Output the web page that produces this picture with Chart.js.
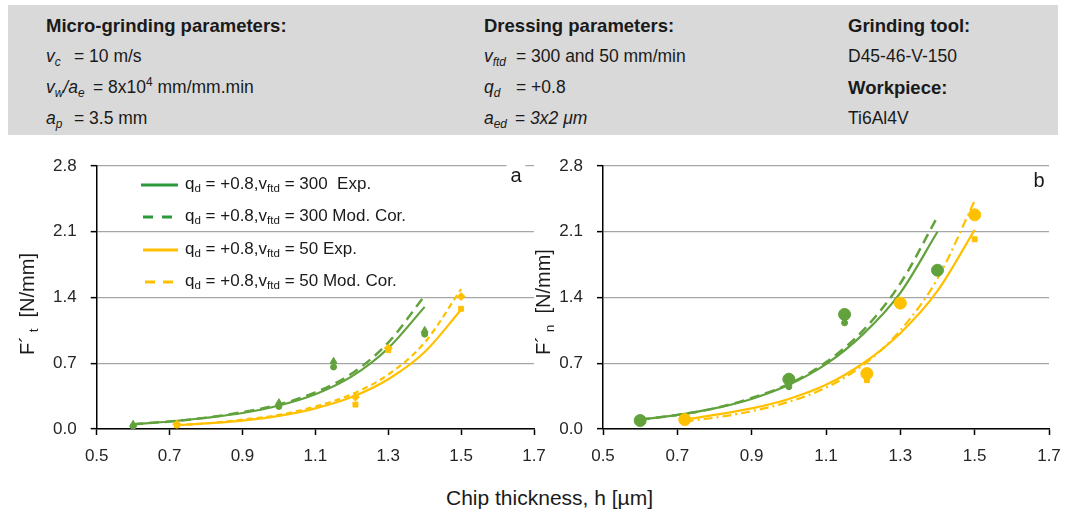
<!DOCTYPE html>
<html>
<head>
<meta charset="utf-8">
<script src="https://cdn.jsdelivr.net/npm/chart.js@4.4.1/dist/chart.umd.min.js"></script>
<style>
  html, body { margin:0; padding:0; background:#fff; }
  body { width:1065px; height:515px; position:relative; overflow:hidden; font-family:'Liberation Sans', Arial, sans-serif; color:#1a1a1a; }
  .t { position:absolute; white-space:pre; line-height:1; transform:translateY(-50%); }
  .h { font-size:17.5px; }
  .b { font-weight:bold; font-size:18.5px; }
  .i { font-style:italic; }
  sub { font-size:68%; vertical-align:-0.3em; line-height:0; }
  sup { font-size:68%; vertical-align:0.6em; line-height:0; }
  #hdr { position:absolute; left:8px; top:5px; width:1050px; height:130px; background:#d9d9d9; }
  .cv { position:absolute; }
  .leg { position:absolute; left:140px; font-size:17px; color:#1a1a1a; }
  .leg .row { position:absolute; left:0; white-space:pre; line-height:1; transform:translateY(-50%); }
  .leg svg { position:absolute; left:0; top:50%; transform:translateY(-50%); }
  .leg span.txt { position:absolute; left:45px; top:0; white-space:pre; }
  .ytitle { position:absolute; font-size:20px; white-space:pre; line-height:1; transform:translate(-50%,-50%) rotate(-90deg); }
  .panel { position:absolute; font-size:20px; background:#fff; line-height:1; transform:translate(-50%,-50%); padding:0 4px; }
</style>
</head>
<body>
<div id="hdr"></div>
<!-- header column 1 -->
<div class="t b" style="left:46px;top:26px">Micro-grinding parameters:</div>
<div class="t h i" style="left:46px;top:57px">v<sub>c</sub></div>
<div class="t h" style="left:74px;top:57px">= 10 m/s</div>
<div class="t h i" style="left:46px;top:88px">v<sub>w</sub>/a<sub>e</sub></div>
<div class="t h" style="left:93px;top:88px">= 8x10<sup>4</sup> mm/mm.min</div>
<div class="t h i" style="left:46px;top:119px">a<sub>p</sub></div>
<div class="t h" style="left:74px;top:119px">= 3.5 mm</div>
<!-- header column 2 -->
<div class="t b" style="left:484px;top:26px">Dressing parameters:</div>
<div class="t h i" style="left:484px;top:57px">v<sub>ftd</sub></div>
<div class="t h" style="left:516px;top:57px">= 300 and 50 mm/min</div>
<div class="t h i" style="left:484px;top:88px">q<sub>d</sub></div>
<div class="t h" style="left:516px;top:88px">= +0.8</div>
<div class="t h i" style="left:484px;top:119px">a<sub>ed</sub></div>
<div class="t h" style="left:515px;top:119px">= <i>3x2 μm</i></div>
<!-- header column 3 -->
<div class="t b" style="left:848px;top:26px">Grinding tool:</div>
<div class="t h" style="left:848px;top:57px">D45-46-V-150</div>
<div class="t b" style="left:848px;top:88px">Workpiece:</div>
<div class="t h" style="left:848px;top:119px">Ti6Al4V</div>

<div class="cv" style="left:0px;top:140px;width:558px;height:340px"><canvas id="cA"></canvas></div>
<div class="cv" style="left:549px;top:140px;width:524px;height:340px"><canvas id="cB"></canvas></div>

<div class="panel" style="left:516px;top:175px">a</div>
<div class="panel" style="left:1039px;top:180px">b</div>

<div class="ytitle" style="left:27px;top:304px">F´<sub> t</sub>  [N/mm]</div>
<div class="ytitle" style="left:543px;top:302px">F´<sub> n</sub>  [N/mm]</div>
<div class="t" style="left:446px;top:497px;font-size:21px">Chip thickness, h [µm]</div>

<div class="leg" style="top:0">
  <div class="row" style="top:185px;width:400px;height:20px">
    <svg width="40" height="6"><line x1="1" y1="3" x2="38" y2="3" stroke="#2a9a3a" stroke-width="3"/></svg>
    <span class="txt">q<sub>d</sub> = +0.8,v<sub>ftd</sub> = 300  Exp.</span>
  </div>
  <div class="row" style="top:217px;width:400px;height:20px">
    <svg width="40" height="6"><line x1="3" y1="3" x2="33" y2="3" stroke="#2a9a3a" stroke-width="3" stroke-dasharray="10,9"/></svg>
    <span class="txt">q<sub>d</sub> = +0.8,v<sub>ftd</sub> = 300 Mod. Cor.</span>
  </div>
  <div class="row" style="top:250px;width:400px;height:20px">
    <svg width="40" height="6"><line x1="3" y1="3" x2="38" y2="3" stroke="#ffc000" stroke-width="3"/></svg>
    <span class="txt">q<sub>d</sub> = +0.8,v<sub>ftd</sub> = 50 Exp.</span>
  </div>
  <div class="row" style="top:282px;width:400px;height:20px">
    <svg width="40" height="6"><line x1="5" y1="3" x2="33" y2="3" stroke="#ffc000" stroke-width="3" stroke-dasharray="10,8"/></svg>
    <span class="txt">q<sub>d</sub> = +0.8,v<sub>ftd</sub> = 50 Mod. Cor.</span>
  </div>
</div>

<script>
// ---- data ----
const xTicks = [0.5, 0.7, 0.9, 1.1, 1.3, 1.5, 1.7];
const yTicks = [0.0, 0.7, 1.4, 2.1, 2.8];

// curve sample positions (chip thickness h, µm)
const hGreenCurve  = [0.6, 0.7, 0.8, 0.9, 1.0, 1.1, 1.2, 1.3, 1.4];
const hYellowCurve = [0.72, 0.8, 0.9, 1.0, 1.1, 1.2, 1.3, 1.4, 1.5];

// panel a: F't [N/mm]
const aGreenExpCurve  = [0.05, 0.08, 0.12, 0.17, 0.25, 0.37, 0.56, 0.86, 1.30];
const aGreenModCurve  = [0.05, 0.08, 0.12, 0.18, 0.26, 0.39, 0.59, 0.92, 1.42];
const aYellowExpCurve = [0.04, 0.06, 0.09, 0.14, 0.22, 0.34, 0.53, 0.82, 1.27];
const aYellowModCurve = [0.04, 0.06, 0.10, 0.15, 0.24, 0.37, 0.58, 0.92, 1.49];

// panel b: F'n [N/mm]
const bGreenExpCurve  = [0.10, 0.15, 0.22, 0.32, 0.47, 0.69, 1.01, 1.45, 2.10];
const bGreenModCurve  = [0.10, 0.15, 0.22, 0.33, 0.48, 0.71, 1.05, 1.55, 2.26];
const bYellowExpCurve = [0.10, 0.15, 0.22, 0.32, 0.47, 0.70, 1.02, 1.47, 2.12];
const bYellowModCurve = [0.08, 0.12, 0.19, 0.29, 0.44, 0.68, 1.05, 1.60, 2.43];

// measured / model points
const hGreenPts  = [0.6, 1.0, 1.15, 1.4];
const hYellowPts = [0.72, 1.21, 1.3, 1.5];
const aGreenExpPts  = [0.05, 0.28, 0.72, 1.05];
const aGreenModPts  = [0.03, 0.24, 0.66, 1.01];
const aYellowExpPts = [0.05, 0.34, 0.86, 1.41];
const aYellowModPts = [0.04, 0.26, 0.84, 1.28];
const bGreenExpPts  = [0.09, 0.53, 1.22, 1.69];
const bGreenModPts  = [0.09, 0.45, 1.13, 1.67];
const bYellowExpPts = [0.10, 0.59, 1.34, 2.28];
const bYellowModPts = [0.08, 0.52, 1.32, 2.02];

// ---- styling ----
const GREEN = '#62a23c';
const YELLOW = '#ffc000';
const FONT = "'Liberation Sans', Arial, sans-serif";

const pts = (xs, ys) => xs.map((x, i) => ({ x: x, y: ys[i] }));

function curve(xs, ys, color, dash, width) {
  return { type:'line', data: pts(xs, ys), borderColor: color, backgroundColor: color,
    borderWidth: width || 2.2, borderDash: dash || [], pointRadius: 0, fill: false,
    cubicInterpolationMode: 'monotone', order: 2 };
}
function marks(xs, ys, color, style, r) {
  return { type:'scatter', data: pts(xs, ys), borderColor: color, backgroundColor: color,
    pointStyle: style, pointRadius: r, borderWidth: 1, showLine: false, order: 1 };
}

function makeOptions(yAxisWidth, padRight) {
  return {
    responsive: true, maintainAspectRatio: false, animation: false,
    events: [],
    layout: { padding: { top: 26, right: padRight, bottom: 0, left: 0 } },
    plugins: { legend: { display: false }, tooltip: { enabled: false } },
    scales: {
      x: {
        type: 'linear', min: 0.5, max: 1.7,
        afterBuildTicks: s => { s.ticks = xTicks.map(v => ({ value: v })); },
        afterFit: s => { s.height = 51; },
        grid: { drawOnChartArea: false, drawTicks: true, tickLength: 6, tickColor: '#000', tickWidth: 1.5 },
        border: { display: true, color: '#000', width: 1.5 },
        ticks: { color: '#262626', padding: 11, font: { family: FONT, size: 17 }, maxRotation: 0,
          callback: v => Number(v).toFixed(1) }
      },
      y: {
        type: 'linear', min: 0, max: 2.8,
        afterBuildTicks: s => { s.ticks = yTicks.map(v => ({ value: v })); },
        afterFit: s => { s.width = yAxisWidth; },
        grid: { color: '#a6a6a6', lineWidth: 1.3, drawTicks: true, tickLength: 6, tickColor: '#000', tickWidth: 1.5 },
        border: { display: true, color: '#000', width: 1.5 },
        ticks: { color: '#262626', padding: 14, font: { family: FONT, size: 17 },
          callback: v => Number(v).toFixed(1) }
      }
    }
  };
}

new Chart(document.getElementById('cA'), {
  data: { datasets: [
    curve(hGreenCurve, aGreenExpCurve, GREEN, [], 2.2),
    curve(hGreenCurve, aGreenModCurve, GREEN, [10, 6], 2.5),
    curve(hYellowCurve, aYellowExpCurve, YELLOW, [], 2.2),
    curve(hYellowCurve, aYellowModCurve, YELLOW, [6, 4], 2.2),
    marks(hGreenPts, aGreenExpPts, GREEN, 'triangle', 4),
    marks(hGreenPts, aGreenModPts, GREEN, 'circle', 3),
    marks(hYellowPts, aYellowExpPts, YELLOW, 'rectRot', 4),
    marks(hYellowPts, aYellowModPts, YELLOW, 'rect', 3.5)
  ]},
  options: makeOptions(96.7, 24)
});

new Chart(document.getElementById('cB'), {
  data: { datasets: [
    curve(hGreenCurve, bGreenExpCurve, GREEN, [], 2.2),
    curve(hGreenCurve, bGreenModCurve, GREEN, [10, 6], 2.5),
    curve(hYellowCurve, bYellowExpCurve, YELLOW, [], 2.2),
    curve(hYellowCurve, bYellowModCurve, YELLOW, [9, 4, 2, 4], 2.2),
    marks(hGreenPts, bGreenExpPts, GREEN, 'circle', 6),
    marks(hGreenPts, bGreenModPts, GREEN, 'circle', 3),
    marks(hYellowPts, bYellowExpPts, YELLOW, 'circle', 6),
    marks(hYellowPts, bYellowModPts, YELLOW, 'rect', 3.5)
  ]},
  options: makeOptions(54, 24)
});
</script>
</body>
</html>
